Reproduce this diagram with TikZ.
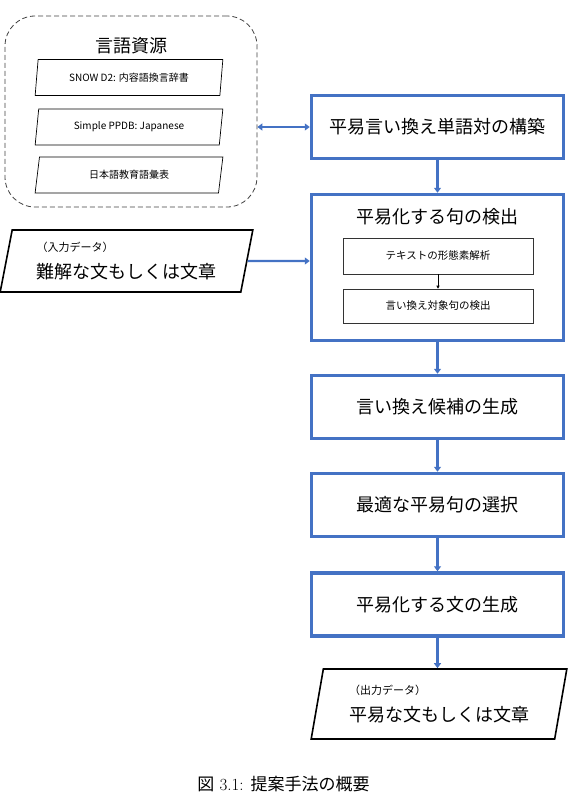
\documentclass[tikz,border=0pt]{standalone}
\usepackage{fontspec}
\newfontfamily\jp{Noto Sans CJK JP}
\usepackage{tikz}
\usetikzlibrary{positioning, shapes.geometric, arrows.meta}
\definecolor{myblue}{HTML}{4472C4}
\tikzset{
	procnode/.style={
			rectangle,
			draw=myblue,
			line width=3.5pt,
			fill=white,
			minimum width=252pt,
			minimum height=63pt,
			inner sep=0pt,
			font=\jp\fontsize{18}{22}\selectfont
		},
	subnode/.style={
			rectangle,
			draw=black!80,
			line width=0.6pt,
			minimum width=190pt,
			inner sep=0pt,
			font=\jp\fontsize{10.5}{13}\selectfont
		},
	resnode/.style={
			trapezium,
			trapezium left angle=78,
			trapezium right angle=102,
			trapezium stretches=true,
			draw=black,
			line width=0.7pt,
			minimum width=188pt,
			minimum height=36pt,
			inner sep=0pt,
			font=\jp\fontsize{10}{12}\selectfont
		},
	ionode/.style={
			trapezium,
			trapezium left angle=76,
			trapezium right angle=104,
			trapezium stretches=true,
			draw=black,
			line width=1.6pt,
			align=left,
			inner sep=0pt,
			font=\jp\fontsize{18}{27}\selectfont
		},
	flowarrow/.style={
			draw=myblue,
			line width=2.4pt,
			-{Triangle[length=5pt,width=7pt]}
		}
}

\begin{document}
\begin{tikzpicture}[x=1pt, y=-1pt]
	\useasboundingbox (0,0) rectangle (573,808);

	\node[draw=black!75, dashed, dash pattern=on 5pt off 3pt, line width=0.8pt, rounded corners=30pt, minimum width=252pt, minimum height=191pt] (res) at (131,111.5) {};
	\node[font=\jp\fontsize{18}{22}\selectfont] (restitle) at (131,46) {言語資源};
	\node[resnode] (snow) at (129,77.5) {SNOW D2: 内容語換言辞書};
	\node[resnode] (ppdb) at (129,127) {Simple PPDB: Japanese};
	\node[resnode] (vocab) at (129,175) {日本語教育語彙表};

	\node[ionode, minimum width=253pt, minimum height=62pt] (input) at (126.5,261) {{\fontsize{11}{13}\selectfont （入力データ）}\\難解な文もしくは文章};

	\node[procnode] (build) at (437.5,127) {平易言い換え単語対の構築};
	\node[procnode, minimum height=146pt] (detect) at (437.5,267.5) {};
	\node[font=\jp\fontsize{18}{22}\selectfont] (detecttitle) at (437.5,217) {平易化する句の検出};
	\node[subnode, minimum height=36pt] (morph) at (438,256) {テキストの形態素解析};
	\node[subnode, minimum height=34pt] (target) at (438,306) {言い換え対象句の検出};
	\node[procnode] (cand) at (437.5,407) {言い換え候補の生成};
	\node[procnode] (select) at (437.5,505) {最適な平易句の選択};
	\node[procnode] (synth) at (437.5,604.5) {平易化する文の生成};

	\node[ionode, minimum width=256pt, minimum height=70pt] (output) at (439,704) {{\fontsize{11}{13}\selectfont （出力データ）}\\平易な文もしくは文章};

	\node[font=\fontsize{17}{20}\selectfont] (caption) at (283.5,784) {{\jp 図}~3.1: {\jp 提案手法の概要}};

	\draw[flowarrow, {Triangle[length=5pt,width=7pt]}-{Triangle[length=5pt,width=7pt]}] (res.east |- build) -- (build);
	\draw[flowarrow] (input) -- (input -| detect.west);
	\draw[flowarrow] (build) -- (detect);
	\draw[draw=black, line width=0.6pt, -{Triangle[length=3pt,width=3pt]}] (morph) -- (target);
	\draw[flowarrow] (detect) -- (cand);
	\draw[flowarrow] (cand) -- (select);
	\draw[flowarrow] (select) -- (synth);
	\draw[flowarrow] (synth.south) -- (synth.south |- output.north);
\end{tikzpicture}
\end{document}
